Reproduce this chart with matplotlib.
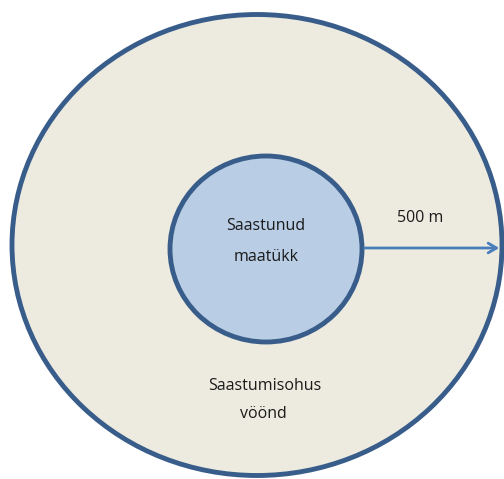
import matplotlib
matplotlib.use("Agg")
import matplotlib.pyplot as plt
from matplotlib.patches import Ellipse

# Labels / values
inner_label = ["Saastunud", "maatükk"]
outer_label = ["Saastumisohus", "vöönd"]
distance_label = "500 m"

# geometry (pixel space)
outer_center = (257, 245)
outer_size = (490, 461)
inner_center = (266, 249)
inner_size = (192, 186)

fig = plt.figure(figsize=(5.04, 4.79), dpi=100)
ax = fig.add_axes([0, 0, 1, 1])
ax.set_xlim(0, 504)
ax.set_ylim(479, 0)
ax.axis("off")

edge = "#385D8A"
ax.add_patch(Ellipse(outer_center, *outer_size, facecolor="#EDEBE0", edgecolor=edge, lw=3.5))
ax.add_patch(Ellipse(inner_center, *inner_size, facecolor="#B9CDE5", edgecolor=edge, lw=3.5))

x0 = inner_center[0] + inner_size[0] / 2
x1 = outer_center[0] + outer_size[0] / 2
ax.annotate("", xy=(x1, 248), xytext=(x0, 248),
            arrowprops=dict(arrowstyle="->,head_length=0.6,head_width=0.35", color="#4A7EBB", lw=2))

fkw = dict(ha="center", va="center", fontsize=11.5, color="#1a1a1a", family=["Open Sans", "DejaVu Sans"])
ax.text(266, 226, inner_label[0], **fkw)
ax.text(266, 257, inner_label[1], **fkw)
ax.text(265, 386, outer_label[0], **fkw)
ax.text(263, 414, outer_label[1], **fkw)
ax.text(420, 218, distance_label, **fkw)

fig.savefig("out.png", dpi=100)
